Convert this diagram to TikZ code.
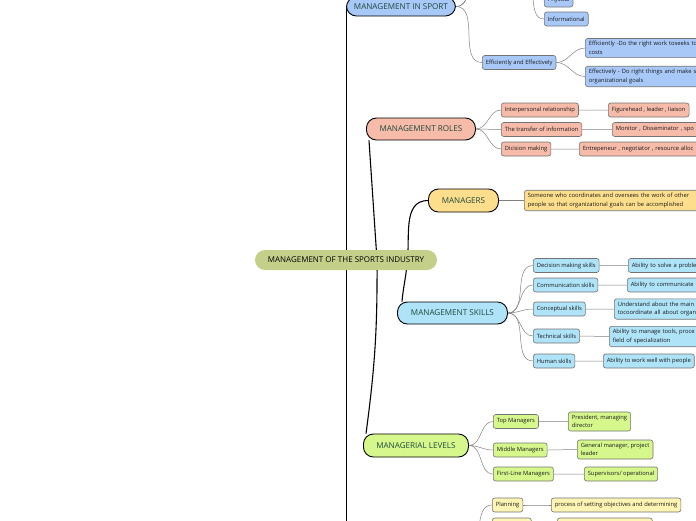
\documentclass[tikz,border=0pt]{standalone}
\usepackage{fontspec}
\setmainfont{Open Sans}
\usetikzlibrary{backgrounds}

\definecolor{rootgreen}{HTML}{C4D08A}
\definecolor{sportblue}{HTML}{A8C8F8}
\definecolor{rolesalmon}{HTML}{F7BBA9}
\definecolor{managergold}{HTML}{FDDE8C}
\definecolor{skillcyan}{HTML}{AEE3F8}
\definecolor{levellime}{HTML}{D6F78C}
\definecolor{planyellow}{HTML}{FEF4B4}
\definecolor{labelgreen}{HTML}{1E4A3C}

\tikzset{
  rootbox/.style={fill=rootgreen, rounded corners=10pt, minimum width=182pt, minimum height=20pt,
    inner sep=0pt, font=\fontsize{8}{9}\selectfont},
  mainbox/.style={draw=black, line width=0.9pt, rounded corners=10pt, minimum height=22pt,
    inner sep=0pt, anchor=west, text=labelgreen, font=\fontsize{8.1}{9}\selectfont},
  leafbox/.style={draw=black!55, line width=0.6pt, rounded corners=2.5pt, minimum height=14pt,
    inner xsep=3.5pt, inner ysep=3pt, anchor=west, align=left, text=black!90,
    font=\fontsize{5.8}{8.6}\selectfont},
  trunk/.style={line width=1.1pt, black},
  twig/.style={line width=0.5pt, black!50, out=0, in=180},
}

\begin{document}
\begin{tikzpicture}[x=1pt, y=-1pt]
    \useasboundingbox (0,0) rectangle (696,520);
    \clip (0,0) rectangle (696,520);

    % Central topic
    \node[rootbox] (root) at (346,260) {MANAGEMENT OF THE SPORTS INDUSTRY};

    % Main topics
    \node[mainbox, fill=sportblue, minimum width=109pt, minimum height=19pt] (sport) at (346,6.5) {MANAGEMENT IN SPORT};
    \node[mainbox, fill=rolesalmon, minimum width=109pt] (roles) at (366,129) {MANAGEMENT ROLES};
    \node[mainbox, fill=managergold, minimum width=70pt, minimum height=23pt] (managers) at (428,200.5) {MANAGERS};
    \node[mainbox, fill=skillcyan, minimum width=110pt] (skills) at (397,313) {MANAGEMENT SKILLS};
    \node[mainbox, fill=levellime, minimum width=105pt, minimum height=23pt] (levels) at (363,445.5) {MANAGERIAL LEVELS};

    % Management in sport
    \node[leafbox, fill=sportblue] (physical) at (544,0) {Physical};
    \node[leafbox, fill=sportblue] (informational) at (544,19) {Informational};
    \node[leafbox, fill=sportblue] (effic) at (482,62.5) {Efficiently and Effectively};
    \node[leafbox, fill=sportblue, text width=150pt] (efficdo) at (585,48) {Efficiently -Do the right work toseeks to\\costs};
    \node[leafbox, fill=sportblue, text width=150pt] (effectdo) at (585,76.5) {Effectively - Do right things and make s\\organizational goals};

    % Management roles
    \node[leafbox, fill=rolesalmon] (interp) at (501,110) {Interpersonal relationship};
    \node[leafbox, fill=rolesalmon] (figure) at (608,110) {Figurehead , leader , liaison};
    \node[leafbox, fill=rolesalmon] (transfer) at (501,129.5) {The transfer of information};
    \node[leafbox, fill=rolesalmon, text width=120pt] (monitor) at (612,129.5) {Monitor , Disseminator , spo};
    \node[leafbox, fill=rolesalmon] (decision) at (501,149) {Dicision making};
    \node[leafbox, fill=rolesalmon, text width=150pt] (entre) at (579,149) {Entrepeneur , negotiator , resource alloc};

    % Managers
    \node[leafbox, fill=managergold, text width=200pt] (someone) at (524,200.5) {Someone who coordinates and oversees the work of other\\people so that organizational goals can be accomplished};

    % Management skills
    \node[leafbox, fill=skillcyan] (dms) at (533,265.5) {Decision making skills};
    \node[leafbox, fill=skillcyan, text width=100pt] (solve) at (628,265.5) {Ability to solve a proble};
    \node[leafbox, fill=skillcyan] (comm) at (533,285) {Communication skills};
    \node[leafbox, fill=skillcyan, text width=100pt] (commab) at (627,285) {Ability to communicate};
    \node[leafbox, fill=skillcyan] (concept) at (533,309) {Conceptual skills};
    \node[leafbox, fill=skillcyan, text width=100pt] (understand) at (614,309) {Understand about the main\\tocoordinate all about organ};
    \node[leafbox, fill=skillcyan] (technical) at (533,336) {Technical skills};
    \node[leafbox, fill=skillcyan, text width=100pt] (tools) at (609,336.5) {Ability to manage tools, proce\\field of specialization};
    \node[leafbox, fill=skillcyan] (human) at (533,361) {Human skills};
    \node[leafbox, fill=skillcyan] (workwell) at (603,361) {Ability to work well with people};

    % Managerial levels
    \node[leafbox, fill=levellime] (top) at (493,421.5) {Top Managers};
    \node[leafbox, fill=levellime] (president) at (568,421.5) {President, managing\\director};
    \node[leafbox, fill=levellime] (middle) at (493,450) {Middle Managers};
    \node[leafbox, fill=levellime] (general) at (577,449.5) {General manager, project\\leader};
    \node[leafbox, fill=levellime] (firstline) at (493,474) {First-Line Managers};
    \node[leafbox, fill=levellime] (supervisors) at (584,474) {Supervisors/ operational};

    % Functions (below the frame)
    \node[leafbox, fill=planyellow] (planning) at (492,505) {Planning};
    \node[leafbox, fill=planyellow] (process) at (551,505) {process of setting objectives and determining};
    \node[leafbox, fill=planyellow, minimum width=39pt] (nextfunc) at (492,525) {};
    \node[leafbox, fill=planyellow, minimum width=95pt] (nextdesc) at (557,525) {};

    % Hubs and ends outside the frame
    \coordinate (hubL) at (346.5,260);
    \coordinate (hubM) at (377,260);
    \coordinate (hubR) at (407,264);
    \coordinate (funcwest) at (346.5,560);
    \coordinate (funchub) at (466,548);
    \coordinate (resourcehub) at (522,-22);
    \coordinate (sportupA) at (482,-20);
    \coordinate (sportupB) at (482,-46);

    % Connectors
    \begin{scope}[on background layer]
        \clip (0,0) rectangle (696,520);
        \draw[trunk] (hubL) -- (hubL |- sport.center);
        \draw[trunk] (hubL) -- (funcwest);
        \draw[trunk] (hubM) -- ([xshift=3pt]roles.south west);
        \draw[trunk] (hubM) to[bend left=4] ([xshift=3pt]levels.north west);
        \draw[trunk] (hubR) to[out=-95, in=85] ([xshift=5pt]skills.north west);
        \draw[trunk] (hubR) to[out=82, in=180] (managers.west);

        \draw[twig] (sport.east) to (sportupA);
        \draw[twig] (sport.east) to (sportupB);
        \draw[twig] (sport.east) to (effic.west);
        \draw[twig] (resourcehub) to (physical.west);
        \draw[twig] (resourcehub) to (informational.west);
        \draw[twig] (effic.east) to (efficdo.west);
        \draw[twig] (effic.east) to (effectdo.west);

        \foreach \a/\b in {interp/figure, transfer/monitor, decision/entre}
            \draw[twig] (roles.east) to (\a.west) (\a.east) to (\b.west);

        \draw[twig] (managers.east) to (someone.west);

        \foreach \a/\b in {dms/solve, comm/commab, concept/understand, technical/tools, human/workwell}
            \draw[twig] (skills.east) to (\a.west) (\a.east) to (\b.west);

        \foreach \a/\b in {top/president, middle/general, firstline/supervisors}
            \draw[twig] (levels.east) to (\a.west) (\a.east) to (\b.west);

        \draw[twig] (funchub) to (planning.west);
        \draw[twig] (funchub) to (nextfunc.west);
        \draw[twig] (planning.east) to (process.west);
        \draw[twig] (nextfunc.east) to (nextdesc.west);
    \end{scope}

\end{tikzpicture}
\end{document}
